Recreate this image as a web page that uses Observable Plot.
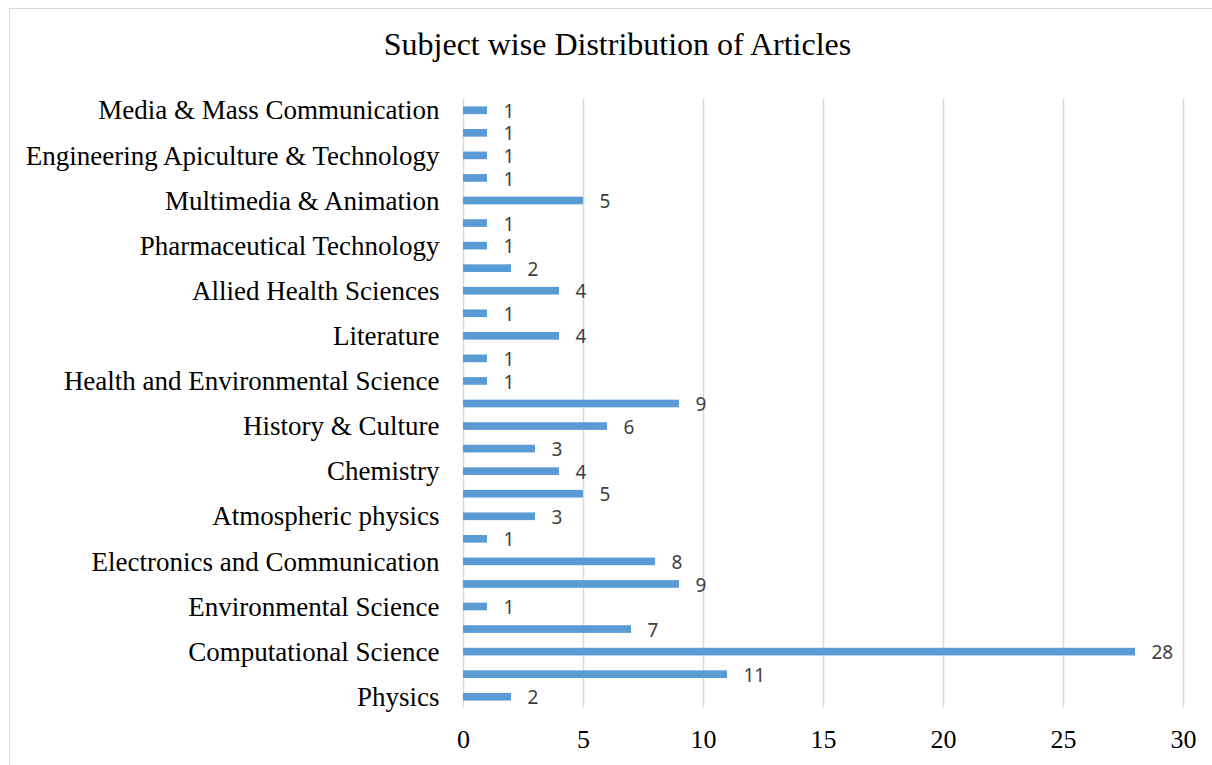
<!DOCTYPE html>
<html>
<head>
<meta charset="utf-8">
<script src="https://cdn.jsdelivr.net/npm/d3@7"></script>
<script src="https://cdn.jsdelivr.net/npm/@observablehq/plot@0.6"></script>
<style>
  html, body { margin: 0; padding: 0; background: #fff; }
  #wrap { position: relative; width: 1212px; height: 765px; overflow: hidden; }
  #frame { position: absolute; left: 9px; top: 8px; width: 1220px; height: 780px; border: 1.5px solid #d9d9d9; box-sizing: border-box; }
  #title { position: absolute; left: 0; width: 1235px; top: 28px; line-height: 32px; text-align: center; font-family: "Liberation Serif", "Times New Roman", serif; font-size: 32px; color: #000; white-space: nowrap; }
  #chart { position: absolute; left: 0; top: 0; }
</style>
</head>
<body>
<div id="wrap">
  <div id="frame"></div>
  <div id="title">Subject wise Distribution of Articles</div>
  <div id="chart"></div>
</div>
<script>
// Categories from top to bottom (empty string = label not shown in the original)
const categories = [
  "Media & Mass Communication", "", "Engineering Apiculture & Technology", "",
  "Multimedia & Animation", "", "Pharmaceutical Technology", "",
  "Allied Health Sciences", "", "Literature", "",
  "Health and Environmental Science", "", "History & Culture", "",
  "Chemistry", "", "Atmospheric physics", "",
  "Electronics and Communication", "", "Environmental Science", "",
  "Computational Science", "", "Physics"
];
const counts = [
  1, 1, 1, 1,
  5, 1, 1, 2,
  4, 1, 4, 1,
  1, 9, 6, 3,
  4, 5, 3, 1,
  8, 9, 1, 7,
  28, 11, 2
];
const xTicks = [0, 5, 10, 15, 20, 25, 30];

const data = categories.map((c, i) => ({ key: i, label: c, value: counts[i] }));

const serif = '"Liberation Serif", "Times New Roman", serif';

const plot = Plot.plot({
  width: 1212,
  height: 765,
  marginLeft: 463,
  marginRight: 29,
  marginTop: 99,
  marginBottom: 57,
  style: { background: "transparent", overflow: "visible" },
  x: { domain: [0, 30], ticks: xTicks, label: null },
  y: { domain: data.map(d => d.key), paddingInner: 0.66, paddingOuter: 0.33, round: false, label: null },
  marks: [
    Plot.ruleX(xTicks, { stroke: "#d9d9d9", strokeWidth: 1.5 }),
    Plot.barX(data, { y: "key", x: "value", fill: "#5b9bd5" }),
    Plot.text(data, {
      y: "key", x: "value", text: d => String(d.value),
      textAnchor: "start", dx: 16, dy: 1,
      fill: "#404040", fontSize: 19, fontFamily: '"Noto Sans", "DejaVu Sans", sans-serif'
    }),
    Plot.axisX({
      ticks: xTicks, tickSize: 0, tickPadding: 21,
      fontSize: 26, fontFamily: serif, fill: "#000", label: null
    }),
    Plot.axisY({
      tickSize: 0, tickPadding: 24,
      tickFormat: k => categories[k],
      fontSize: 27, fontFamily: serif, fill: "#000", label: null
    })
  ]
});
document.getElementById("chart").appendChild(plot);
</script>
</body>
</html>
